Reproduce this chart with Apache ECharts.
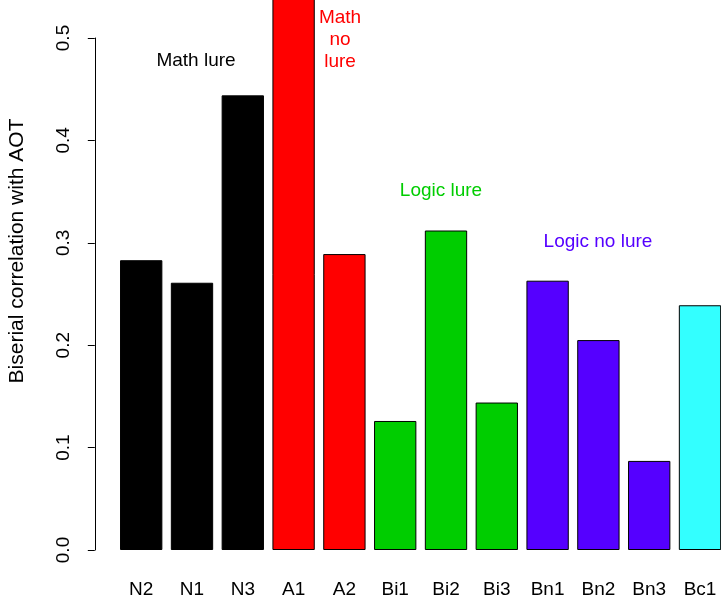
<!DOCTYPE html>
<html>
<head>
<meta charset="utf-8">
<script src="https://cdn.jsdelivr.net/npm/echarts@6/dist/echarts.min.js"></script>
<style>
  html, body { margin: 0; padding: 0; background: #fff; }
  #main { width: 721px; height: 603px; }
</style>
</head>
<body>
<div id="main"></div>
<script>
// items and biserial correlations
var items = ['N2', 'N1', 'N3', 'A1', 'A2', 'Bi1', 'Bi2', 'Bi3', 'Bn1', 'Bn2', 'Bn3', 'Bc1'];
var corr = [0.283, 0.261, 0.444, 0.56, 0.289, 0.126, 0.312, 0.144, 0.263, 0.205, 0.087, 0.239];
var barColors = ['#000000', '#000000', '#000000', '#FF0000', '#FF0000', '#00CD00', '#00CD00', '#00CD00',
                 '#5500FF', '#5500FF', '#5500FF', '#33FFFF'];

var font = 'Liberation Sans, Arial, sans-serif';
var myChart = echarts.init(document.getElementById('main'), null, { renderer: 'canvas' });

var barData = [];
for (var i = 0; i < corr.length; i++) {
    barData.push({ value: corr[i], itemStyle: { color: barColors[i] } });
}

var option = {
    animation: false,
    backgroundColor: '#fff',
    grid: { left: 115.8, top: 38, width: 609.6, height: 512, outerBoundsMode: 'none', containLabel: false },
    xAxis: {
        type: 'category',
        data: items,
        axisLine: { show: false },
        axisTick: { show: false },
        axisLabel: { color: '#000', fontSize: 19, fontFamily: font, margin: 30 }
    },
    yAxis: {
        type: 'value',
        min: 0,
        max: 0.5,
        interval: 0.1,
        offset: 21,
        axisLine: { show: true, lineStyle: { color: '#000', width: 1 } },
        axisTick: { show: true, length: 7, lineStyle: { color: '#000' } },
        axisLabel: {
            rotate: 90, color: '#000', fontSize: 19, fontFamily: font, margin: 22,
            formatter: function (v) { return v.toFixed(1); }
        },
        splitLine: { show: false }
    },
    series: [{
        type: 'bar',
        data: barData,
        barCategoryGap: '16.67%',
        clip: false, // A1 runs past the top of the picture
        itemStyle: { borderColor: '#000', borderWidth: 1 }
    }],
    graphic: [
        // y axis title: R centres it on the (cropped) plot region, above the axis centre
        { type: 'text', x: 17, y: 251, rotation: Math.PI / 2, style: { text: 'Biserial correlation with AOT', fill: '#000', font: '21px ' + font, textAlign: 'center', textVerticalAlign: 'middle' } },
        { type: 'text', x: 196, y: 61, style: { text: 'Math lure', fill: '#000', font: '19px ' + font, textAlign: 'center', textVerticalAlign: 'middle' } },
        { type: 'text', x: 340, y: 40, style: { text: 'Math\nno\nlure', fill: '#FF0000', font: '19px ' + font, lineHeight: 22, textAlign: 'center', textVerticalAlign: 'middle' } },
        { type: 'text', x: 441, y: 191, style: { text: 'Logic lure', fill: '#00CD00', font: '19px ' + font, textAlign: 'center', textVerticalAlign: 'middle' } },
        { type: 'text', x: 598, y: 242, style: { text: 'Logic no lure', fill: '#5500FF', font: '19px ' + font, textAlign: 'center', textVerticalAlign: 'middle' } }
    ]
};

myChart.setOption(option);
</script>
</body>
</html>
